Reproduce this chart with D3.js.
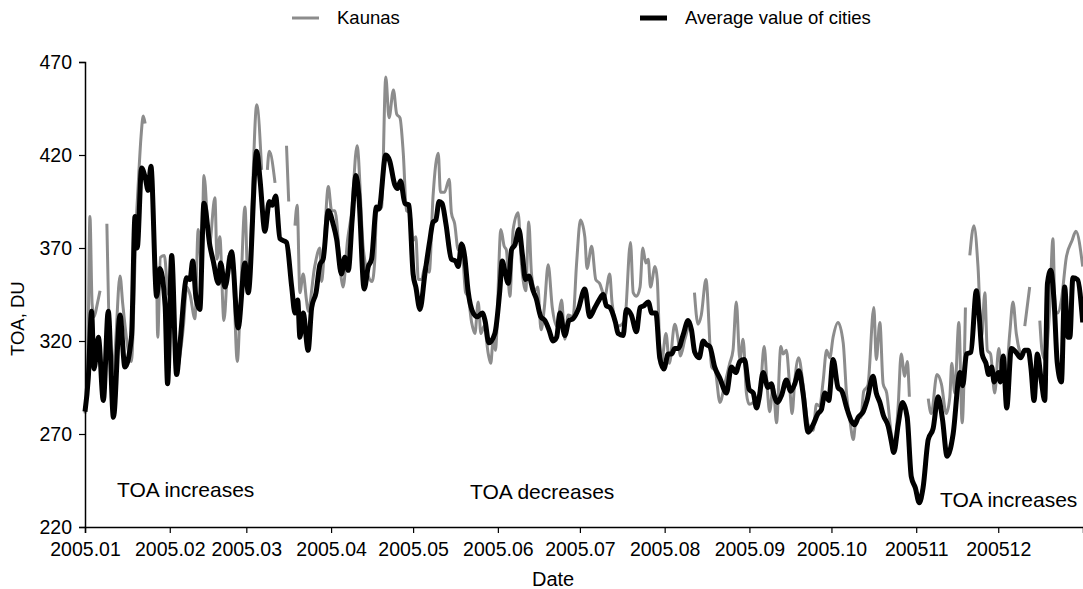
<!DOCTYPE html>
<html><head><meta charset="utf-8">
<script src="https://cdn.jsdelivr.net/npm/d3@7"></script>
<style>
body{margin:0;background:#fff}
svg text{font-family:"Liberation Sans",Arial,sans-serif;fill:#000}
</style>
</head><body>
<svg id="chart" width="1083" height="589"></svg>
<script>
// ---- data ----
const monthTickDays = [0,31,59,90,120,151,181,212,243,273,304,334];
const monthTickLabels = ["2005.01","2005.02","2005.03","2005.04","2005.05","2005.06","2005.07","2005.08","2005.09","2005.10","200511","200512"];
const yTickValues = [220,270,320,370,420,470];
const seriesNames = ["Kaunas","Average value of cities"];
const annotations = [
  {text:"TOA increases", day:11.7, value:236.1},
  {text:"TOA decreases", day:140.8, value:235},
  {text:"TOA increases", day:312.7, value:230.8}
];
// [day of year (0 = 1 Jan), TOA in DU]
const averagePoints = [[0,282],[1.2,300],[2.4,336],[3.3,305],[4.9,322],[6.7,288],[8.5,336],[10.4,279],[12.8,334],[14.6,306],[17,322],[18.3,387],[19.1,370],[20.7,413],[22,408],[23.1,401],[24.1,414],[26.2,344],[27.4,359],[29.3,339],[30.2,297],[31.7,366],[33.5,302],[34.7,318],[37.2,354],[38.4,353],[39.4,363],[40.6,343],[42,337],[43.5,394],[45.7,371],[46.9,363],[48.8,351],[49.6,362],[51.2,349],[53.6,368],[56,327],[58.5,362],[59.7,346],[62.8,422],[64,407],[65.8,379],[67.4,395],[68.5,393],[69.7,398],[71.3,375],[73.7,373],[75.6,349],[76.8,335],[77.8,342],[78.6,322],[79.8,335],[81.6,315],[82.9,338],[84.5,346],[85.9,361],[87.1,364],[89,390],[90.9,382],[92,375],[93.8,356],[95,365],[96.3,358],[97.7,385],[99.1,409],[100.1,399],[102.1,348],[103.6,360],[104.8,364],[106.6,392],[107.5,391],[110,420],[111.4,417],[113.3,404],[114.3,402],[115.4,406],[117,394],[118.5,393],[120,356],[121,349],[122.5,337],[124.3,356],[126.1,374],[127.3,384],[128.3,385],[129.5,395],[130.6,394],[132,383],[134,364],[135.5,363],[136.5,360],[137.7,372],[138.9,365],[140.1,347],[142,335],[143.5,333],[145.3,335],[146.3,331],[147.7,319],[149.9,324],[151.7,347],[152.6,363],[153.5,358],[154.8,351],[156,369],[157.3,372],[158.7,380],[160,366],[161.1,353],[162.3,355],[163.9,347],[165,343],[166.7,333],[168.2,331],[169.7,326],[171.2,320],[172.5,322],[173.7,335],[175.5,323],[177,331],[178.5,332],[180.4,337],[182.8,348],[184.6,333],[186.5,338],[188,342],[189.5,345],[190.7,339],[192,338],[194,330],[195,324],[196.8,323],[198,337],[199.8,334],[201.7,325],[203,338],[204.5,339],[206,341],[207.3,335],[208.8,335],[210.2,311],[211.7,305],[213.3,313],[214.5,313],[215.7,316],[217,316],[218.7,323],[220.6,331],[221.8,326],[223,314],[224.6,311],[226.1,320],[227.3,318],[228.5,317],[230.3,306],[232.2,300],[234.6,292],[236.4,306],[238,303],[239.5,309],[241.2,310],[242.9,294],[244.4,292],[245.6,284],[246.5,289],[248,303],[249.8,295],[251,297],[252,291],[253.3,287],[254.8,291],[256.5,299],[258.1,293],[259.6,297],[261.1,304],[262.6,292],[264.5,271],[266.3,275],[268.1,281],[269.3,283],[270.6,292],[272,288],[273.6,310],[275.4,295],[276.8,293],[278.8,283],[280.3,277],[281.5,275],[282.8,279],[284.6,282],[286,288],[288.2,301],[289.4,292],[290.7,287],[292,280],[293.8,274],[294.9,266],[295.8,260],[297.4,275],[299,287],[300.7,279],[302.2,247],[303.7,241],[305.1,233],[306.5,241],[308.4,267],[310.2,273],[312,290],[313.6,278],[315.3,258],[316.5,262],[317.5,270],[320,303],[321,296],[322.4,313],[324,314],[326,347],[327,334],[328.1,313],[329.5,308],[330.5,302],[331.6,306],[332.5,298],[334,303],[334.8,298],[335.8,312],[337.1,284],[338.8,316],[340.5,314],[342.2,311],[343.7,315],[345,315],[346,305],[347.1,288],[348.3,313],[349.8,298],[351,288],[352,351],[353.2,358],[354.4,342],[355.6,308],[357.1,298],[358.3,349],[359.5,322],[360.2,322],[361.3,354],[363,353],[364.9,330]];
// null value = missing observation (gap in the Kaunas line)
const kaunasPoints = [[0,281],[1,305],[1.8,387],[2.6,340],[3.3,333],[4.5,340],[5.5,347],[6,null],[8,383],[9.7,301],[11,315],[12.8,355],[13.8,340],[15.5,318],[17,309],[17.6,326],[18.5,375],[19.5,405],[20.5,430],[21.3,441],[22,437],[23,null],[26.2,360],[26.6,322],[27.6,365],[29,366],[30.5,345],[31.7,362],[33.5,303],[34.7,312],[36,328],[37.2,349],[38.4,345],[40.2,332],[41.4,380],[42.6,360],[43.5,409],[45.5,372],[47.5,397],[48.3,364],[49.3,376],[50.8,331],[52.5,365],[53.8,368],[55.7,309],[56.8,340],[58.5,392],[59.7,346],[61,390],[62.8,447],[64.6,412],[65.5,null],[66.7,412],[67.4,422],[69.5,405],[70.5,null],[73.7,425],[74.5,395],[75.5,null],[76.8,382],[77.6,393],[78.6,346],[79.8,356],[81,342],[81.6,336],[84,360],[85.9,370],[86.5,352],[89,403],[90.2,390],[91.4,390],[93.8,353],[94.4,349],[96,374],[97.5,389],[99.5,425],[101.7,371],[103.6,355],[105,352],[106,364],[106.6,389],[108.5,392],[110,462],[111.2,440],[112.8,455],[114,442],[115.2,440],[116.4,421],[117.6,390],[118.8,389],[120,374],[121,376],[121.9,353],[123.1,353],[124.3,360],[125.9,357],[127.3,398],[129.2,421],[130,400],[131.5,400],[133.2,407],[134,389],[135.2,383],[136.5,369],[137.7,373],[139.2,346],[140.1,344],[141.4,330],[142.6,324],[143.8,341],[144.8,324],[146,328],[147.5,313],[148.4,308],[149.3,321],[150.1,315],[152.1,380],[153.3,371],[154.1,369],[155.4,344],[156.6,380],[158.4,389],[159.6,362],[161.2,347],[162.3,384],[163.3,356],[164.6,347],[165.6,349],[166.8,326],[168,338],[169.4,361],[170.9,338],[172.5,328],[173.4,335],[174.3,342],[175.5,321],[176.7,334],[178.5,333],[179.8,362],[181.2,385],[182.8,376],[183.6,359],[185.3,371],[186.8,353],[188.2,351],[190.1,344],[191.9,356],[192.8,340],[195,328],[197.4,331],[199.5,373],[200.5,346],[201.7,344],[203,349],[204,370],[205.1,362],[206,364],[206.8,349],[208.5,360],[209.3,353],[210.2,317],[210.8,308],[212.5,324],[213.7,308],[215.7,329],[216.9,321],[217.8,312],[219.4,321],[221.1,328],[222.4,319],[222.6,null],[222.9,346],[224.2,329],[225.4,334],[227.1,353],[229.2,306],[230.5,304],[232.2,287],[234,297],[235.8,308],[237,315],[238.2,341],[239.5,310],[240.7,321],[241.9,292],[242.9,286],[244.4,287],[246.8,292],[248.4,317],[249.6,293],[250.4,282],[251.7,296],[252.9,276],[254.5,317],[255.3,313],[256.5,315],[257.8,294],[258.6,281],[259.6,299],[261,311],[262.6,297],[264.5,275],[266.3,272],[267.5,286],[268.7,285],[270,299],[271.2,315],[272.4,311],[273.6,322],[275.4,330],[277.3,319],[278.5,292],[279.7,278],[281,267],[282,278],[283.8,279],[284.8,293],[286.3,296],[288.5,338],[289.4,310],[290.7,330],[291.9,297],[293.2,292],[294.9,270],[296.1,265],[297.4,285],[298.5,313],[299.8,301],[300.7,309],[301.5,290],[302,null],[308.4,289],[309.5,281],[311.6,302],[313.2,297],[315,281],[316.3,290],[317,308],[318.1,292],[319.6,330],[320.8,276],[322,338],[322.8,null],[323.6,366],[325.1,382],[326.6,360],[327.9,322],[329.1,346],[330,315],[331.2,313],[332.7,292],[334.2,316],[335,306],[336.6,297],[338.2,324],[339.4,341],[340.6,324],[342.2,312],[343,null],[343.7,328],[345.5,349],[346.2,null],[349.2,331],[350,315],[351,310],[352.8,337],[354,375],[354.8,337],[355.8,335],[357.1,342],[358.9,365],[361,374],[362.4,379],[364.9,360]];

// ---- layout ----
const svg = d3.select("#chart");
const plotLeft = 85, plotTop = 62, plotRight = 1083, plotBottom = 527;
const tickFont = 19.5;
const grayColor = "#8c8c8c";

const x = d3.scaleLinear().domain([0, 365]).range([plotLeft, plotRight]);
const y = d3.scaleLinear().domain([220, 470]).range([plotBottom, plotTop]);

// legend
const legend = svg.append("g");
const legendItems = [
  {name: seriesNames[0], x0: 292, color: grayColor, width: 3},
  {name: seriesNames[1], x0: 640, color: "#000", width: 5}
];
legendItems.forEach(d => {
  legend.append("line").attr("x1", d.x0).attr("x2", d.x0 + 27).attr("y1", 18).attr("y2", 18)
    .attr("stroke", d.color).attr("stroke-width", d.width);
  legend.append("text").attr("x", d.x0 + 45).attr("y", 24).attr("font-size", 18.5).text(d.name);
});

// lines
const lineGen = d3.line()
  .defined(d => d[1] !== null)
  .x(d => x(d[0])).y(d => y(d[1]))
  .curve(d3.curveMonotoneX);

svg.append("path").datum(kaunasPoints)
  .attr("fill", "none").attr("stroke", grayColor).attr("stroke-width", 3)
  .attr("stroke-linejoin", "round").attr("d", lineGen);
svg.append("path").datum(averagePoints)
  .attr("fill", "none").attr("stroke", "#000").attr("stroke-width", 5)
  .attr("stroke-linejoin", "round").attr("d", lineGen);

// axes
const yAxis = svg.append("g").attr("transform", `translate(${plotLeft},0)`)
  .call(d3.axisLeft(y).tickValues(yTickValues).tickSize(6).tickPadding(7));
const xAxis = svg.append("g").attr("transform", `translate(0,${plotBottom})`)
  .call(d3.axisBottom(x).tickValues(monthTickDays).tickFormat((d, i) => monthTickLabels[i]).tickSize(6).tickPadding(9));
[xAxis, yAxis].forEach(g => {
  g.select(".domain").attr("stroke", "#000").attr("stroke-width", 1.5);
  g.selectAll(".tick line").attr("stroke", "#000").attr("stroke-width", 1.2);
  g.selectAll(".tick text").attr("font-size", tickFont).attr("font-family", "Liberation Sans, Arial, sans-serif").attr("fill", "#000");
});

// axis titles
svg.append("text").attr("x", x(171.2)).attr("y", 586).attr("text-anchor", "middle")
  .attr("font-size", 20).text("Date");
svg.append("text").attr("transform", `translate(24,${y(332)}) rotate(-90)`).attr("text-anchor", "middle")
  .attr("font-size", 18.5).text("TOA, DU");

// annotations
svg.selectAll("text.ann").data(annotations).enter().append("text").attr("class", "ann")
  .attr("x", d => x(d.day)).attr("y", d => y(d.value))
  .attr("font-size", 21).text(d => d.text);
</script>
</body></html>
